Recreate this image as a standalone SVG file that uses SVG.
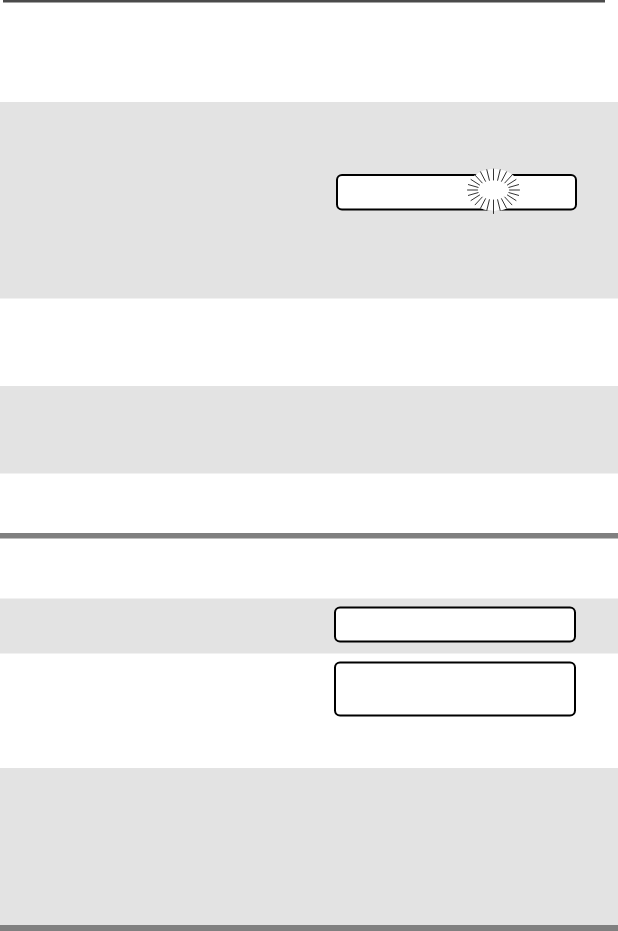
<svg xmlns="http://www.w3.org/2000/svg" width="618" height="931" viewBox="0 0 618 931">
  <style>
    .band { fill: #e3e3e3; }
    .rule { fill: #808080; }
    .lcd { fill: #ffffff; stroke: #000000; stroke-width: 2; }
    .ray { stroke: #333333; stroke-width: 1; stroke-linecap: round; }
  </style>
  <rect x="0" y="0" width="618" height="931" fill="#ffffff"/>
  <rect x="3" y="0" width="602" height="2.5" fill="#4a4a4a"/>
  <rect class="band" x="0" y="102" width="618" height="196.5"/>
  <rect class="band" x="0" y="386" width="618" height="87.5"/>
  <rect class="rule" x="0" y="533" width="618" height="5.5"/>
  <rect class="band" x="0" y="598.5" width="618" height="55"/>
  <rect class="band" x="0" y="768" width="618" height="157"/>
  <rect class="rule" x="0" y="925" width="618" height="6"/>

  <g id="display1">
    <rect class="lcd" x="337" y="175" width="239" height="34.5" rx="5"/>
    <ellipse cx="494" cy="190" rx="27" ry="21" fill="#ffffff"/>
    <g class="ray">
      <line x1="509.5" y1="190" x2="519.5" y2="190"/>
      <line x1="508.9" y1="192.6" x2="518.6" y2="195.4"/>
      <line x1="507.4" y1="195" x2="516" y2="200.5"/>
      <line x1="504.8" y1="197.1" x2="511.9" y2="204.8"/>
      <line x1="501.5" y1="198.7" x2="506.5" y2="208.2"/>
      <line x1="497.6" y1="199.7" x2="500.2" y2="210.3"/>
      <line x1="493.5" y1="200" x2="493.5" y2="213.5"/>
      <line x1="489.4" y1="199.7" x2="486.8" y2="210.3"/>
      <line x1="485.5" y1="198.7" x2="480.5" y2="208.2"/>
      <line x1="482.2" y1="197.1" x2="475.1" y2="204.8"/>
      <line x1="479.6" y1="195" x2="471" y2="200.5"/>
      <line x1="478.1" y1="192.6" x2="468.4" y2="195.4"/>
      <line x1="477.5" y1="190" x2="467.5" y2="190"/>
      <line x1="478.1" y1="187.4" x2="468.4" y2="184.6"/>
      <line x1="479.6" y1="185" x2="471" y2="179.5"/>
      <line x1="482.2" y1="182.9" x2="475.1" y2="175.2"/>
      <line x1="485.5" y1="181.3" x2="480.5" y2="171.8"/>
      <line x1="489.4" y1="180.3" x2="486.8" y2="169.7"/>
      <line x1="493.5" y1="180" x2="493.5" y2="169"/>
      <line x1="497.6" y1="180.3" x2="500.2" y2="169.7"/>
      <line x1="501.5" y1="181.3" x2="506.5" y2="171.8"/>
      <line x1="504.8" y1="182.9" x2="511.9" y2="175.2"/>
      <line x1="507.4" y1="185" x2="516" y2="179.5"/>
      <line x1="508.9" y1="187.4" x2="518.6" y2="184.6"/>
    </g>
  </g>

  <g id="display2">
    <rect class="lcd" x="335" y="607.5" width="240" height="34" rx="5"/>
  </g>

  <g id="display3">
    <rect class="lcd" x="335" y="662.5" width="240" height="53" rx="5"/>
  </g>

  <g id="connectors"/>
</svg>
